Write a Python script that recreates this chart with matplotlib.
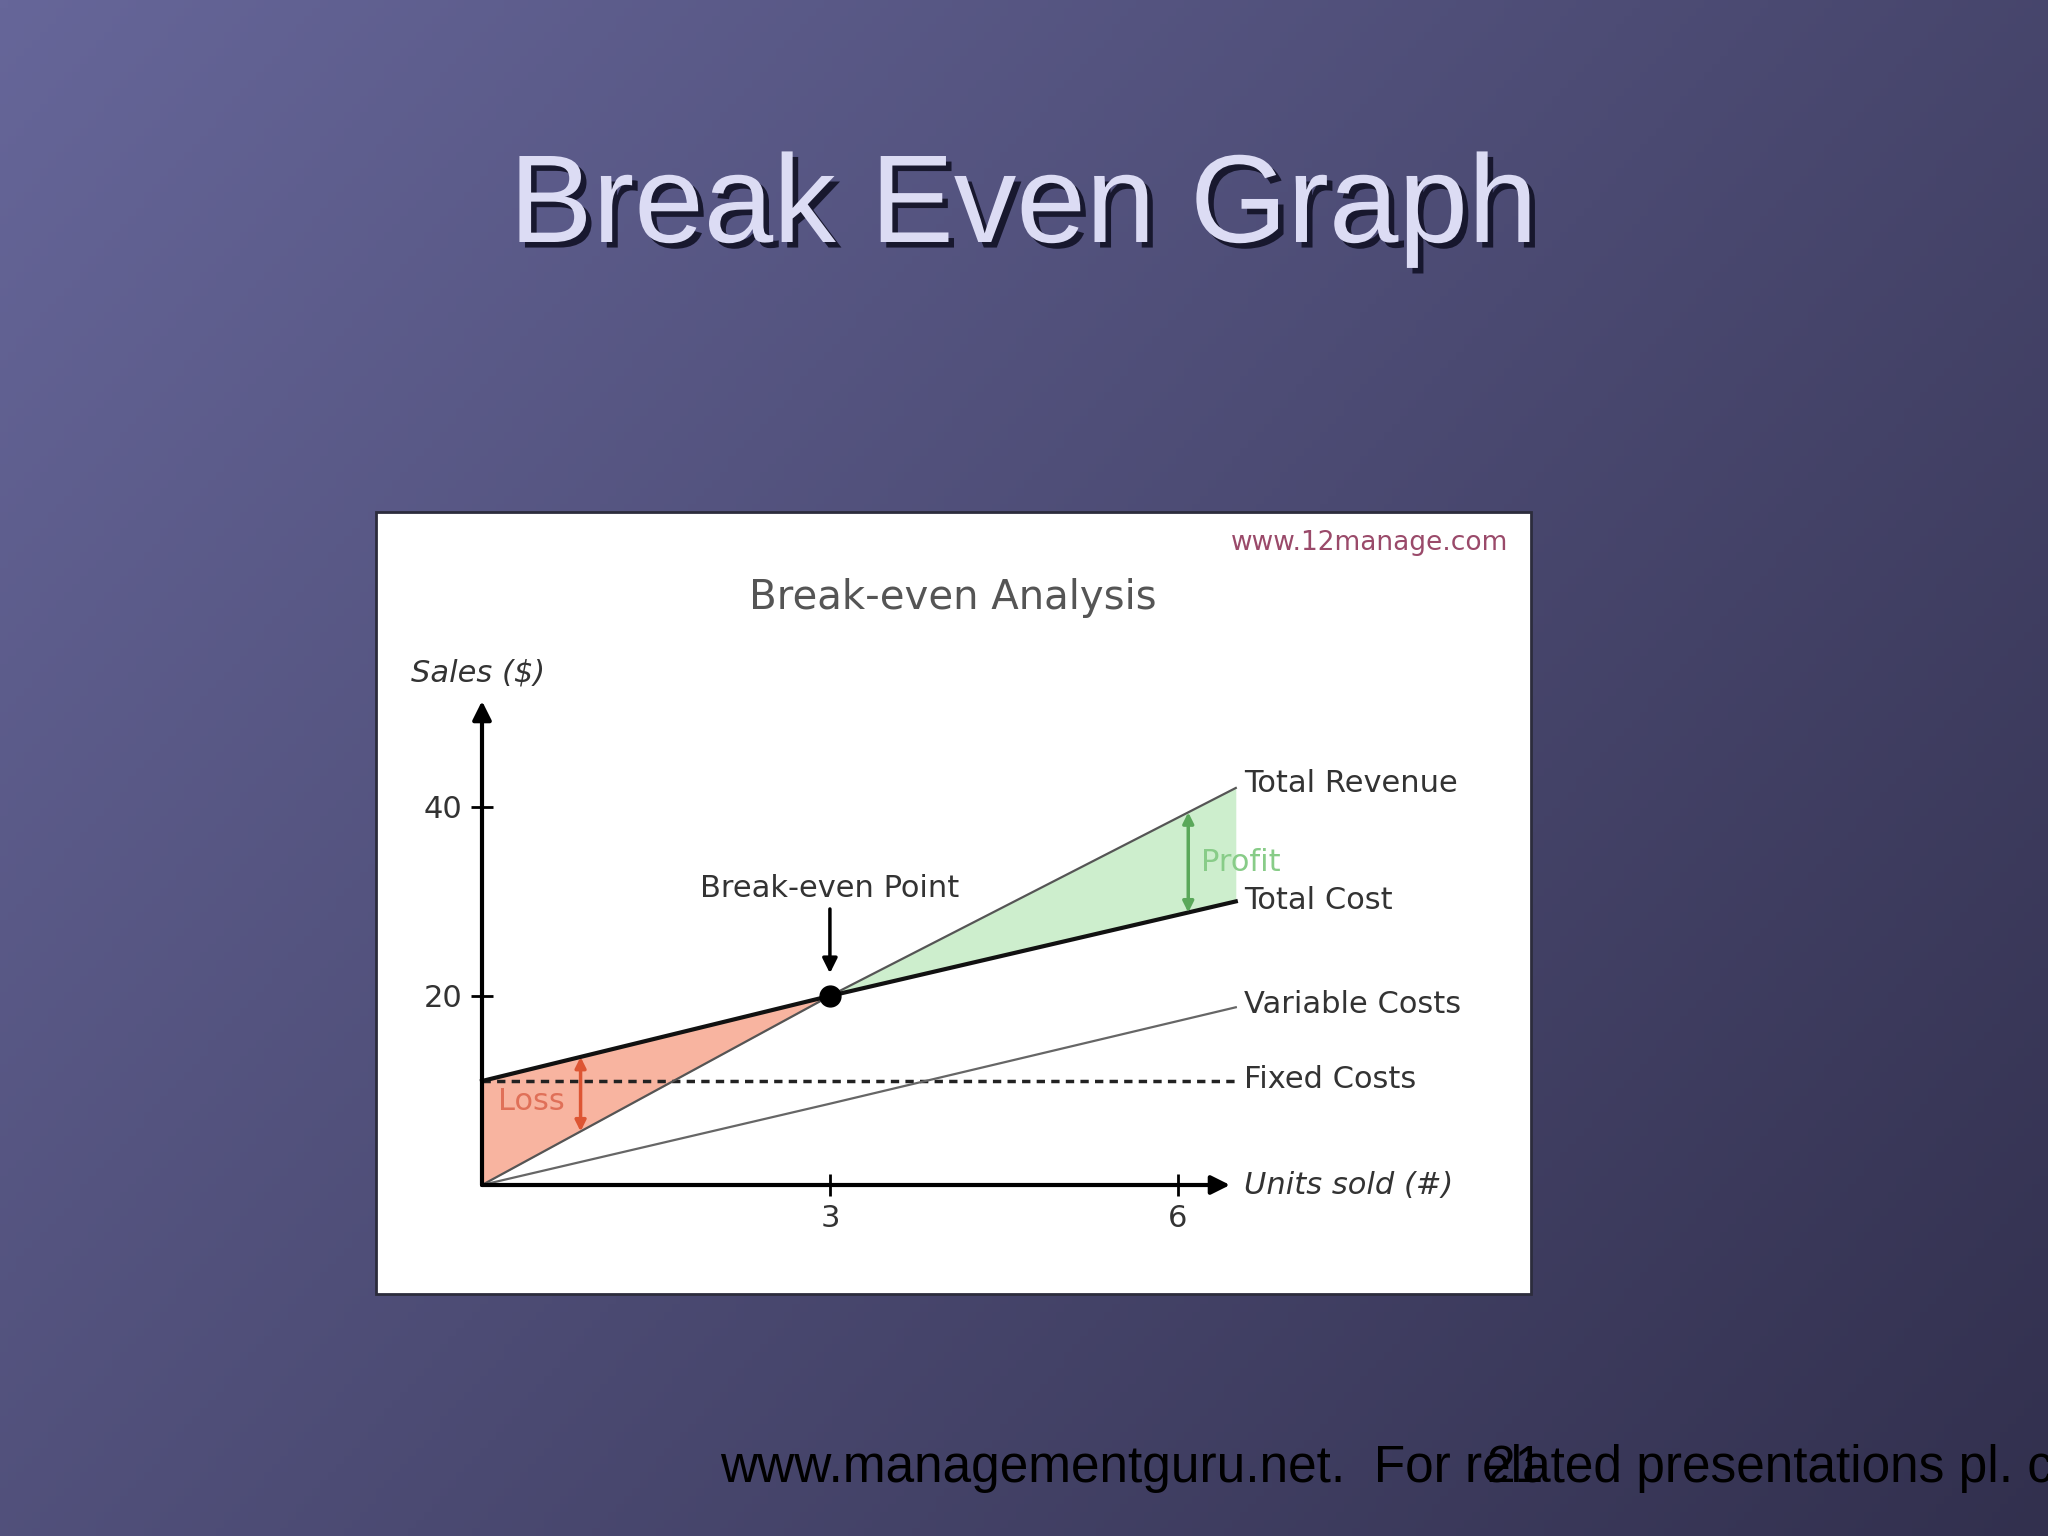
import numpy as np
import matplotlib
matplotlib.use("Agg")
import matplotlib.pyplot as plt
import matplotlib.patches as patches
import matplotlib.patheffects as pe

# break-even data
units = [0, 3, 6.5]
total_revenue = [0, 20, 42]
total_cost = [11, 20, 30]
variable_costs = [0, 8.6, 18.8]
fixed_costs = [11, 11, 11]
break_even = (3, 20)
x_ticks = [3, 6]
y_ticks = [20, 40]
loss_x = 0.85
profit_x = 6.09

W, H = 2048, 1536
fig = plt.figure(figsize=(W / 100, H / 100), dpi=100)

# slide background gradient
bg = fig.add_axes([0, 0, 1, 1], zorder=0)
gx, gy = np.meshgrid(np.linspace(0, 1, 256), np.linspace(0, 1, 192))
t = (gx * 0.6 + gy * 0.4)
c0 = np.array([102, 102, 153]) / 255
c1 = np.array([50, 48, 78]) / 255
img = c0[None, None, :] * (1 - t[..., None]) + c1[None, None, :] * t[..., None]
bg.imshow(img, extent=[0, 1, 0, 1], aspect="auto", origin="upper")
bg.set_xlim(0, 1)
bg.set_ylim(0, 1)
bg.axis("off")

# white picture panel
panel = patches.Rectangle((376 / 100, (H - 1294) / 100), (1531 - 376) / 100, (1294 - 512) / 100,
                          transform=fig.dpi_scale_trans,
                          facecolor="white", edgecolor="#2c2c3c", lw=2, zorder=3)
bg.add_patch(panel)

# slide title
fig.text(0.4996, 1 - 242 / H, "Break Even Graph", ha="center", va="baseline",
         fontsize=90, family="Liberation Sans", color="#dcdcf4",
         path_effects=[pe.withSimplePatchShadow(offset=(4, -4), shadow_rgbFace="#15152a", alpha=0.95)])

# footer
fig.text(720 / W, 1 - 1482 / H, "www.managementguru.net.  For related presentations pl. c",
         ha="left", va="baseline", fontsize=37, family="Liberation Sans", color="black")
fig.text(1515 / W, 1 - 1482 / H, "21", ha="center", va="baseline",
         fontsize=37, family="Liberation Sans", color="black")

fig.text(1508 / W, 1 - 543 / H, "www.12manage.com", ha="right", va="center",
         fontsize=19, color="#9a4a6a")
fig.text(953 / W, 1 - 598 / H, "Break-even Analysis", ha="center", va="center",
         fontsize=29, color="#555555")

# chart axes
ax = fig.add_axes([482 / W, 1 - 1185 / H, 748 / W, 484 / H], zorder=2)
ax.set_facecolor("none")
ax.set_xlim(0, 6.45)
ax.set_ylim(0, 51.2)
for s in ax.spines.values():
    s.set_visible(False)

ax.fill_between(units[:2], total_revenue[:2], total_cost[:2], color="#f8b4a0", lw=0, clip_on=False)
ax.fill_between(units[1:], total_revenue[1:], total_cost[1:], color="#cdeecd", lw=0, clip_on=False)

ax.plot(units, fixed_costs, color="#222222", lw=2.5, ls=(0, (2.4, 1.8)), clip_on=False)
ax.plot(units, variable_costs, color="#666666", lw=1.6, clip_on=False)
ax.plot(units, total_revenue, color="#555555", lw=1.6, clip_on=False)
ax.plot(units, total_cost, color="#111111", lw=3, clip_on=False)
ax.plot(*break_even, "o", color="black", ms=15, clip_on=False, zorder=5)

# axis arrows
ax.annotate("", xy=(6.45, 0), xytext=(0, 0),
            arrowprops=dict(arrowstyle="-|>", lw=3, color="black", mutation_scale=28, shrinkA=0, shrinkB=0))
ax.annotate("", xy=(0, 51.2), xytext=(0, 0),
            arrowprops=dict(arrowstyle="-|>", lw=3, color="black", mutation_scale=28, shrinkA=0, shrinkB=0))

ax.set_xticks(x_ticks)
ax.set_yticks(y_ticks)
ax.tick_params(direction="inout", length=16, width=2, labelsize=22, labelcolor="#333333", pad=6)

# line labels
lab = dict(fontsize=22, color="#333333", va="center", ha="left", annotation_clip=False)
ax.annotate("Total Revenue", (units[-1], total_revenue[-1]), xytext=(6, 3), textcoords="offset points", **lab)
ax.annotate("Total Cost", (units[-1], total_cost[-1]), xytext=(6, 1), textcoords="offset points", **lab)
ax.annotate("Variable Costs", (units[-1], variable_costs[-1]), xytext=(6, 2), textcoords="offset points", **lab)
ax.annotate("Fixed Costs", (units[-1], fixed_costs[-1]), xytext=(6, 1), textcoords="offset points", **lab)
ax.annotate("Units sold (#)", (6.45, 0), xytext=(10, 0), textcoords="offset points", style="italic", **lab)
ax.annotate("Sales ($)", (0, 51.2), xytext=(-51, 20), textcoords="offset points", style="italic", **lab)

# break-even marker
ax.annotate("Break-even Point", (break_even[0], 31.4), ha="center", va="center",
            fontsize=22, color="#333333", annotation_clip=False)
ax.annotate("", xy=(break_even[0], 22.4), xytext=(break_even[0], 29.2),
            arrowprops=dict(arrowstyle="-|>", lw=2.5, color="black", mutation_scale=22, shrinkA=0, shrinkB=0))

# loss / profit arrows
lc = np.interp(loss_x, units, total_cost)
lr = np.interp(loss_x, units, total_revenue)
ax.annotate("", xy=(loss_x, lr), xytext=(loss_x, lc),
            arrowprops=dict(arrowstyle="<|-|>", lw=2.5, color="#dd5533", mutation_scale=16, shrinkA=0, shrinkB=0))
ax.text(0.43, lr + 0.4 * (lc - lr), "Loss", fontsize=22, color="#e07058", ha="center", va="center")

pr = np.interp(profit_x, units, total_revenue)
pc = np.interp(profit_x, units, total_cost)
ax.annotate("", xy=(profit_x, pr), xytext=(profit_x, pc),
            arrowprops=dict(arrowstyle="<|-|>", lw=2.5, color="#5aa85a", mutation_scale=16, shrinkA=0, shrinkB=0))
ax.text(6.2, (pr + pc) / 2, "Profit", fontsize=22, color="#88cc88", ha="left", va="center", clip_on=False)

fig.savefig("out.png", dpi=100)
